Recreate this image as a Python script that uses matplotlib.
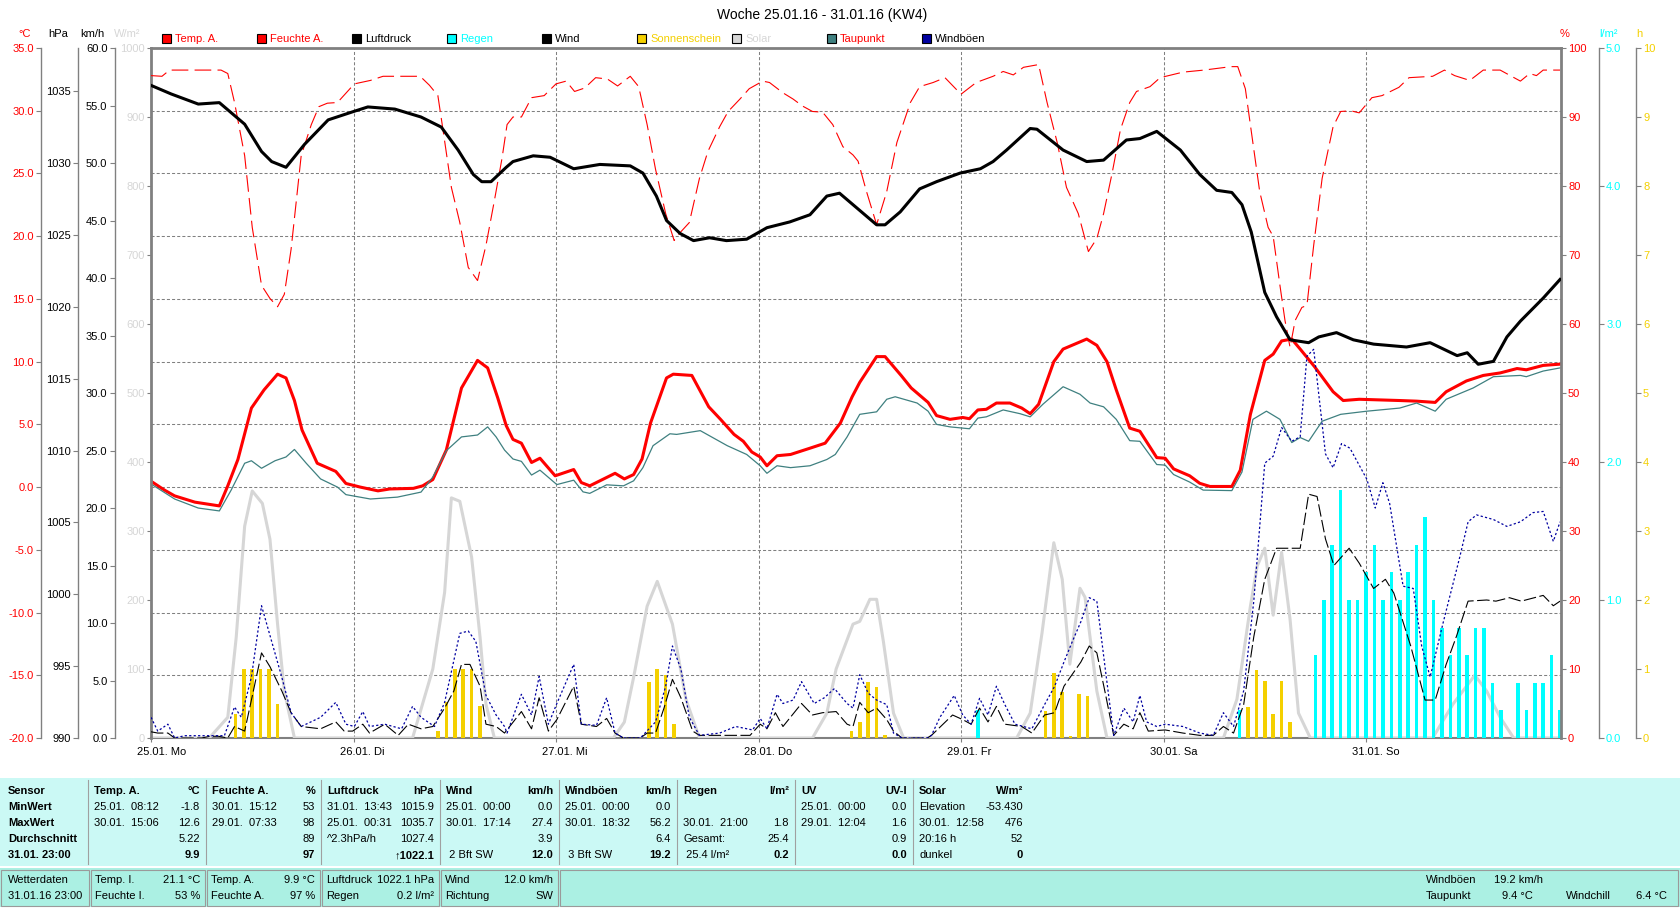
import matplotlib
matplotlib.use("Agg")
import matplotlib.pyplot as plt
import matplotlib.transforms as mtransforms
from matplotlib.patches import Rectangle

W, H = 1680, 909
L, R, T, B = 151, 1561, 48, 738   # plot box in pixels
PX_PER_H = 202.5 / 24.0

plt.rcParams['font.family'] = ['Liberation Sans', 'DejaVu Sans']
plt.rcParams['font.size'] = 8
plt.rcParams['lines.scale_dashes'] = False

RED = '#ff0000'
CYAN = '#00ffff'
GOLD = '#f4d000'
LGRAY = '#d6d6d6'
TEAL = '#3f8080'
BLUE = '#0000a0'
GRAY = '#808080'

title = 'Woche 25.01.16 - 31.01.16 (KW4)'
day_labels = ['25.01. Mo', '26.01. Di', '27.01. Mi', '28.01. Do', '29.01. Fr', '30.01. Sa', '31.01. So']

# (hours since 25.01. 00:00, value)
pressure = [(0, 1035.4), (2.4, 1034.8), (5.6, 1034.1), (8.1, 1034.2), (11.1, 1032.7), (13.1, 1030.8),
            (14.3, 1030.1), (16, 1029.7), (18.2, 1031.3), (21, 1033.0), (24.1, 1033.6), (25.7, 1033.9),
            (28.9, 1033.75), (32, 1033.2), (34.4, 1032.5), (36.4, 1030.9), (38.2, 1029.2), (39.2, 1028.7),
            (40.3, 1028.7), (42.1, 1029.7), (42.9, 1030.1), (45.3, 1030.5), (47.3, 1030.4), (50.1, 1029.6),
            (53.2, 1029.9), (56.8, 1029.8), (58.3, 1029.3), (59.9, 1027.7), (61.1, 1026.0), (62.7, 1025.1),
            (64.3, 1024.6), (66.2, 1024.8), (68.2, 1024.6), (70.6, 1024.7), (73, 1025.5), (75.7, 1025.9),
            (78.1, 1026.4), (80.1, 1027.7), (81.6, 1027.9), (83.8, 1026.8), (86, 1025.7), (87, 1025.7),
            (88.8, 1026.6), (91.1, 1028.2), (93.1, 1028.7), (95.9, 1029.3), (98.3, 1029.6), (99.8, 1030.1),
            (101.4, 1030.9), (104.2, 1032.4), (105, 1032.35), (108.1, 1030.9), (110.9, 1030.1), (112.9, 1030.2),
            (115.6, 1031.6), (117.2, 1031.7), (119.2, 1032.2), (122, 1030.9), (124.3, 1029.2), (126.3, 1028.1),
            (128.1, 1027.95), (129.3, 1027.1), (130.4, 1025.2), (132, 1021.0), (133.4, 1019.3), (135, 1017.7),
            (137.2, 1017.5), (138.4, 1017.9), (140.5, 1018.2), (142.5, 1017.7), (144.9, 1017.4), (148.8, 1017.2),
            (151.6, 1017.5), (154.8, 1016.6), (156, 1016.8), (157.3, 1016.0), (159.1, 1016.2), (160.7, 1017.9),
            (162.3, 1019.0), (165, 1020.6), (167, 1021.9)]

temperature = [(0, 0.47), (1.6, -0.24), (2.8, -0.7), (5.2, -1.2), (8.1, -1.5), (9.1, 0.1), (10.3, 2.2),
               (11.9, 6.3), (13.4, 7.75), (15.0, 9.0), (16, 8.7), (17, 6.9), (17.9, 4.55), (19.7, 1.9),
               (21.9, 1.25), (23.1, 0.29), (24.8, 0.0), (26.9, -0.3), (28.3, -0.15), (31.1, -0.1), (32.2, 0.1),
               (33.4, 0.6), (35, 2.95), (36.8, 7.9), (38.7, 10.1), (39.9, 9.5), (41.1, 7.1), (42.1, 4.9),
               (42.9, 3.8), (43.9, 3.5), (45.1, 1.96), (46.1, 2.3), (47.9, 0.9), (50.1, 1.4), (51.0, 0.36),
               (52, 0.1), (55, 1.1), (56.1, 0.65), (57.2, 1.0), (58.2, 2.24), (59.2, 5.1), (61.1, 8.7),
               (61.9, 9.0), (64.1, 8.9), (66.1, 6.4), (67.5, 5.4), (69.1, 4.2), (70.2, 3.65), (71.2, 2.8),
               (72.2, 2.4), (73, 1.7), (74.2, 2.5), (75.8, 2.6), (78.1, 3.1), (79.9, 3.5), (81.7, 5.1),
               (83.1, 7.2), (84, 8.35), (86, 10.4), (87, 10.4), (88.9, 8.9), (90.1, 7.9), (92.1, 6.75),
               (93.1, 5.7), (94.7, 5.4), (96.2, 5.55), (97, 5.45), (98, 6.15), (99, 6.2), (100.2, 6.7),
               (101.8, 6.7), (103.2, 6.3), (104.2, 5.85), (105.2, 6.6), (107, 10.0), (108.1, 11.0),
               (110.9, 11.8), (112.1, 11.3), (113.3, 10.0), (114.4, 7.75), (116, 4.7), (117.2, 4.45),
               (119.2, 2.35), (120.2, 2.3), (121.2, 1.45), (123.1, 0.9), (124.3, 0.3), (125.5, 0.05),
               (128.1, 0.05), (129.1, 1.35), (130.3, 5.8), (132, 10.1), (133, 10.6), (134, 11.65), (135.2, 11.8),
               (136.2, 11.0), (137.9, 9.6), (140.1, 7.6), (141.3, 6.9), (143.2, 7.0), (148, 6.9), (150, 6.85),
               (152.2, 6.75), (153.5, 7.6), (155.9, 8.46), (157.9, 8.9), (159.9, 9.1), (161.9, 9.45),
               (163, 9.35), (165, 9.7), (167, 9.8)]

dewpoint = [(0, 0.25), (2.8, -0.95), (5.6, -1.67), (8.1, -1.9), (9.5, -0.24), (11.1, 1.9), (11.9, 2.1),
            (13.1, 1.5), (14.7, 2.1), (16, 2.4), (17, 3.0), (18.4, 1.9), (20.1, 0.65), (22.1, 0.0), (23.1, -0.6),
            (26, -0.95), (29.2, -0.8), (32, -0.4), (33.4, 0.8), (35, 2.9), (36.8, 4.0), (38.7, 4.15),
            (39.9, 4.8), (40.9, 4.0), (41.9, 2.95), (42.9, 2.24), (43.9, 2.05), (45.1, 0.96), (46.1, 1.35),
            (48.1, 0.2), (50.1, 0.55), (51.2, -0.38), (52, -0.5), (54, 0.18), (56, 0.1), (57.2, 0.5),
            (58.3, 1.55), (59.5, 3.3), (61.5, 4.25), (62.3, 4.2), (65.1, 4.5), (68.3, 3.3), (70.6, 2.6),
            (72.2, 1.7), (73, 1.1), (74.2, 1.7), (75.8, 1.55), (78.1, 1.7), (80.1, 2.2), (81.1, 2.6),
            (82.5, 4.0), (84, 5.8), (86, 6.0), (87.2, 7.0), (88.2, 7.2), (90.8, 6.7), (92.1, 6.05), (93.1, 5.0),
            (94.7, 4.8), (97, 4.65), (98, 5.5), (99, 5.6), (101, 6.15), (103, 5.85), (104.2, 5.6), (105.7, 6.6),
            (108.1, 8.0), (110.1, 7.4), (111.3, 6.7), (112.9, 6.4), (114.4, 5.4), (116, 3.7), (117.2, 3.65),
            (119.2, 1.8), (120.2, 1.75), (121.2, 1.0), (123.1, 0.4), (124.7, -0.24), (128.1, -0.28),
            (129.3, 1.2), (130.6, 5.4), (132.2, 6.05), (133.8, 5.4), (135.2, 3.55), (136.2, 3.95),
            (137.2, 3.65), (138.8, 5.25), (141, 5.8), (144.1, 6.05), (148, 6.3), (150, 6.7), (152.2, 6.05),
            (153.5, 7.0), (156.7, 7.9), (159.1, 8.8), (162.3, 8.9), (163, 8.8), (165, 9.25), (167, 9.5)]

humidity = [(0, 96), (1.3, 95.9), (2.2, 96.8), (8.3, 96.8), (9.1, 96.3), (9.9, 92.1), (11.1, 84.4), (12.0, 74),
            (13.1, 65.6), (14.1, 63.7), (15.0, 62.5), (15.8, 64.3), (16.6, 70.8), (17.8, 84.4), (19.0, 88.9),
            (19.9, 91.5), (20.9, 92), (22.1, 92.1), (24.1, 94.8), (26, 95.3), (27.5, 95.9), (31.9, 95.9),
            (33, 94.6), (34, 93.1), (34.6, 88.2), (35.6, 79.8), (36.6, 74.7), (37.6, 68.2), (38.7, 66.3),
            (39.7, 71.4), (40.7, 77.9), (41.6, 84), (42.2, 88.9), (42.9, 90), (43.9, 90), (45.1, 92.8),
            (46.6, 93.1), (48, 94.8), (49.2, 95.2), (50.2, 93.7), (51.4, 94.2), (52.7, 95.7), (54.1, 95.5),
            (55.3, 94.5), (56.8, 95.9), (57.8, 94.4), (58.8, 88.9), (59.8, 82.4), (61, 76), (62, 72.1),
            (62.6, 73.1), (63.8, 74.7), (65, 81.1), (66, 85), (67.4, 88.6), (68.4, 90.8), (69.8, 92.6),
            (70.9, 94.1), (72.5, 95.2), (73.3, 95), (74.9, 93.5), (76.1, 92.6), (77.2, 91.6), (78.4, 90.8),
            (79.6, 90.7), (80.8, 88.9), (82, 85.7), (83.2, 84.5), (83.8, 83.6), (84.8, 79.2), (86, 74.4),
            (87.2, 79.2), (88.4, 86.3), (90, 92.1), (91.1, 94.4), (92.7, 95), (94.1, 95.7), (96, 93.3),
            (97.8, 95), (99.8, 95.9), (101, 96.6), (102.2, 96.1), (103.4, 97.2), (105.2, 97.6), (106.2, 92.1),
            (107.4, 86.3), (108.5, 79.8), (109.9, 76), (111.1, 70.5), (112.1, 72.4), (112.9, 76), (113.9, 81.8),
            (114.9, 88.2), (116, 92.1), (116.8, 93.7), (118.4, 94.4), (119.6, 95.7), (122.3, 96.5),
            (124.8, 96.8), (128, 97.3), (128.8, 97.3), (129.7, 94.1), (130.8, 84.4), (131.4, 79.2), (132.4, 74),
            (133, 72.7), (133.8, 65.6), (134.4, 60.5), (135.0, 56.6), (135.6, 60.5), (136.4, 62.4), (137, 62.7),
            (137.8, 71.4), (138.8, 81.1), (140.1, 88.6), (141, 90.8), (142.2, 90.9), (143.2, 90.6),
            (144.7, 92.8), (145.9, 93.1), (147.9, 94.3), (149.1, 95.7), (151.9, 95.9), (153.3, 96.8),
            (154.5, 96), (156.3, 95.3), (157.9, 96.8), (159.9, 96.8), (162.3, 95.2), (163.4, 96.3), (164.2, 96),
            (165, 96.8), (167, 96.8)]

wind = [(0, 0.54), (0.8, 0.43), (2, 0.43), (2.8, 0), (6, 0), (7, 0.15), (8, 0.15), (9.1, 0), (9.9, 1.0),
        (11.1, 0.6), (11.9, 3.3), (13.1, 7.4), (14.1, 6.2), (15.5, 4.1), (16.6, 2.2), (17.8, 1.0), (20.1, 0.8),
        (21.9, 1.4), (22.9, 0.6), (23.9, 0.6), (25.1, 1.2), (25.9, 0.43), (27.7, 1.2), (29.3, 0.23),
        (30.5, 1.2), (32, 0.8), (33.4, 1.0), (34.8, 2.6), (35.9, 4.1), (36.8, 6.4), (37.8, 6.4), (39, 4.5),
        (39.7, 1.2), (40.9, 1.0), (41.9, 0.43), (43.9, 2.3), (45.1, 0.8), (46, 3.5), (47.1, 0.6), (48.1, 1.6),
        (50.1, 4.5), (51, 1.2), (52.8, 1.0), (54, 1.7), (55, 0.43), (56, 0), (58, 0), (58.8, 0.43),
        (59.8, 0.43), (60.8, 2.6), (61.8, 5.1), (62.8, 3.5), (64.2, 0.6), (65, 0.23), (71, 0.23), (72.2, 1.2),
        (73, 0.8), (74, 2.2), (74.9, 1.0), (77.1, 3.0), (78.4, 2.0), (79.6, 2.2), (81.2, 2.3), (82.5, 1.2),
        (83.2, 1.0), (84, 3.1), (85, 2.2), (86, 2.6), (87.2, 1.6), (88, 0.6), (89, 0), (92, 0), (92.5, 0.23),
        (95, 2.0), (96.2, 1.6), (97.2, 1.2), (98.2, 2.6), (99.2, 1.4), (100.2, 2.75), (101.2, 1.2),
        (103.2, 1.0), (104.4, 0.43), (105.9, 2.0), (107.1, 2.2), (108.2, 4.5), (110.2, 6.6), (111.2, 8.0),
        (112.1, 7.4), (113.1, 3.9), (114.1, 0.23), (115.3, 1.2), (116.4, 0.8), (117.2, 2.2), (118.2, 0.6),
        (120.2, 0.7), (122.3, 0.43), (124.3, 0.23), (125.9, 0.23), (127.1, 1.0), (128.3, 0.43), (129.5, 2.9),
        (130.7, 8.8), (132, 13.8), (133.4, 16.5), (136.2, 16.5), (137.2, 21.2), (138.2, 21.0), (139.2, 17.3),
        (140.2, 15.0), (142, 16.5), (143.2, 15.2), (144.9, 13.0), (146.3, 13.8), (147.3, 12.6), (149.3, 8.0),
        (151, 3.3), (152.2, 3.3), (153.5, 6.4), (154.7, 8.8), (156.1, 11.9), (158.3, 12.0), (159.4, 11.9),
        (161, 12.2), (162.4, 11.9), (165, 12.4), (166.2, 11.5), (167, 11.9)]

gusts = [(0, 1.8), (0.8, 0.6), (2, 1.2), (2.8, 0), (4, 0.2), (7, 0.2), (8.7, 0.2), (9.9, 2.7), (10.7, 1.8),
         (11.9, 5.3), (13.1, 11.5), (14.3, 8.4), (15.5, 5.3), (16.6, 2.2), (17.8, 1.0), (20.1, 1.8), (21.9, 3.1),
         (23.1, 1.2), (24.1, 1.0), (25.1, 2.3), (25.9, 1.0), (27.7, 1.2), (29.7, 0.8), (31, 2.75), (32, 1.8),
         (33.6, 1.0), (34.8, 3.1), (36.6, 9.1), (37.6, 9.3), (38.5, 8.4), (39.7, 3.7), (40.9, 2.0), (41.9, 1.0),
         (42.2, 0.43), (43.9, 3.8), (45.1, 2.0), (46, 5.35), (47.1, 1.2), (48.1, 3.0), (50.1, 6.4), (51, 1.2),
         (52.8, 1.1), (54, 3.5), (55, 0.43), (56, 0), (58, 0), (59.8, 1.4), (61, 4.5), (61.8, 8.0), (62.8, 6.0),
         (63.8, 1.8), (65, 0.23), (67.4, 0.43), (69.3, 1.0), (71.3, 0.7), (72.2, 1.7), (73, 0.8), (74.2, 3.8),
         (74.9, 3.0), (76.1, 3.3), (77.1, 4.9), (78.6, 3.0), (79.8, 3.5), (81, 4.3), (82.5, 3.0), (83.2, 2.6),
         (84, 5.5), (85, 3.9), (86, 3.3), (87.2, 2.9), (88, 0.43), (89, 0), (92, 0), (92.5, 0.23), (93.5, 1.8),
         (95.2, 3.7), (96.2, 2.0), (97.2, 1.2), (98.2, 3.45), (99.2, 2.0), (100.2, 4.5), (101.2, 2.9),
         (102.4, 1.2), (104.4, 0.8), (105.9, 2.9), (107.1, 4.5), (108.2, 6.6), (109.2, 8.4), (110.2, 10.1),
         (111.2, 12.2), (112.1, 11.9), (113.1, 6.0), (114.1, 0.23), (115.3, 2.6), (116.4, 1.4), (117.2, 3.7),
         (118, 1.4), (119.2, 1.0), (120.2, 1.2), (122.3, 1.0), (124.3, 0.43), (125.9, 0.23), (127.1, 2.2),
         (128.3, 1.0), (129.5, 4.1), (130.7, 11.9), (132, 23.9), (133, 24.5), (134, 27.0), (135.2, 25.8),
         (136.2, 26.2), (137, 33.2), (137.8, 33.8), (139.2, 24.7), (140.1, 23.5), (141.1, 25.6), (142.1, 25.2),
         (144.1, 22.5), (145.1, 20.0), (146, 22.2), (146.8, 20.4), (148.4, 13.2), (149.6, 13.0), (150.6, 8.0),
         (151.6, 5.3), (153.1, 9.9), (155.1, 15.7), (156.1, 18.8), (157.1, 19.4), (159.1, 19.0), (160.7, 18.4),
         (162.3, 18.8), (163.8, 19.6), (165, 19.7), (166.2, 17.1), (167, 18.8)]

solar = [(0, 0), (6.9, 0), (9.1, 30), (10.1, 146), (11.1, 307), (12, 358), (13.2, 340), (14.1, 288), (15, 165),
         (15.8, 68), (17, 0), (31, 0), (33.4, 100), (34.8, 211), (35.6, 348), (36.6, 343), (38, 262), (39, 146),
         (39.7, 49), (40.7, 0), (54.8, 0), (56.1, 23), (57.2, 88), (58.8, 191), (60, 227), (61.8, 165),
         (63.4, 56), (65, 0), (78.4, 0), (80.1, 36), (81.2, 100), (83.2, 165), (84, 169), (85.2, 201), (86, 201),
         (86.8, 140), (88, 36), (89.2, 0), (102.6, 0), (104.2, 36), (105.6, 152), (107, 283), (108, 230),
         (108.9, 107), (110.1, 217), (110.7, 204), (112.1, 68), (113.3, 0), (127.1, 0), (128.7, 56),
         (130.3, 191), (131.1, 249), (132, 275), (133, 178), (134, 269), (135, 172), (136, 36), (137.4, 0),
         (151.9, 0), (154.3, 49), (156.9, 91), (158.3, 68), (159.9, 30), (161.5, 0), (167, 0)]

sunshine = [(10, 0.35), (11, 1.0), (12, 1.0), (13, 1.0), (14, 1.0), (15, 0.5),
            (34, 0.1), (35, 0.52), (36, 1.0), (37, 1.0), (38, 1.0), (39, 0.46),
            (59, 0.81), (60, 1.0), (61, 0.92), (62, 0.2),
            (83, 0.1), (84, 0.23), (85, 0.81), (86, 0.74), (87, 0.05),
            (106, 0.39), (107, 0.94), (108, 0.67), (109, 0.03), (110, 0.64), (111, 0.61),
            (130, 0.45), (131, 0.98), (132, 0.83), (133, 0.35), (134, 0.83), (135, 0.23)]

rain = [(98, 0.2), (129, 0.2), (138, 0.6), (139, 1.0), (140, 1.4), (141, 1.8), (142, 1.0), (143, 1.0), (144, 1.2),
        (145, 1.4), (146, 1.0), (147, 1.2), (148, 1.0), (149, 1.2), (150, 1.4), (151, 1.6), (152, 1.0),
        (153, 0.8), (154, 0.6), (155, 0.8), (156, 0.6), (157, 0.8), (158, 0.8), (159, 0.4), (160, 0.2),
        (162, 0.4), (163, 0.2), (164, 0.4), (165, 0.4), (166, 0.6), (167, 0.2)]

legend_items = [('Temp. A.', RED, RED), ('Feuchte A.', RED, RED), ('Luftdruck', 'black', 'black'),
                ('Regen', CYAN, CYAN), ('Wind', 'black', 'black'), ('Sonnenschein', GOLD, GOLD),
                ('Solar', LGRAY, LGRAY), ('Taupunkt', TEAL, RED), ('Windböen', BLUE, 'black')]

# summary table
row_heads = ['Sensor', 'MinWert', 'MaxWert', 'Durchschnitt', '31.01. 23:00']
table_cols = [
    ('Temp. A.', '°C', [('25.01.  08:12', '-1.8'), ('30.01.  15:06', '12.6'), ('', '5.22'), ('', '9.9')]),
    ('Feuchte A.', '%', [('30.01.  15:12', '53'), ('29.01.  07:33', '98'), ('', '89'), ('', '97')]),
    ('Luftdruck', 'hPa', [('31.01.  13:43', '1015.9'), ('25.01.  00:31', '1035.7'), ('^2.3hPa/h', '1027.4'), ('', '↑1022.1')]),
    ('Wind', 'km/h', [('25.01.  00:00', '0.0'), ('30.01.  17:14', '27.4'), ('', '3.9'), (' 2 Bft SW', '12.0')]),
    ('Windböen', 'km/h', [('25.01.  00:00', '0.0'), ('30.01.  18:32', '56.2'), ('', '6.4'), (' 3 Bft SW', '19.2')]),
    ('Regen', 'l/m²', [('', ''), ('30.01.  21:00', '1.8'), ('Gesamt:', '25.4'), (' 25.4 l/m²', '0.2')]),
    ('UV', 'UV-I', [('25.01.  00:00', '0.0'), ('29.01.  12:04', '1.6'), ('', '0.9'), ('', '0.0')]),
    ('Solar', 'W/m²', [('Elevation', '-53.430'), ('30.01.  12:58', '476'), ('20:16 h', '52'), ('dunkel', '0')]),
]
current_cells = [
    [('Wetterdaten', ''), ('31.01.16 23:00', '')],
    [('Temp. I.', '21.1 °C'), ('Feuchte I.', '53 %')],
    [('Temp. A.', '9.9 °C'), ('Feuchte A.', '97 %')],
    [('Luftdruck', '1022.1 hPa'), ('Regen', '0.2 l/m²')],
    [('Wind', '12.0 km/h'), ('Richtung', 'SW')],
]


def unzip(pairs):
    return [p[0] for p in pairs], [p[1] for p in pairs]


def fx(x):
    return x / W


def fy(y):
    return 1 - y / H


fig = plt.figure(figsize=(W / 100, H / 100), dpi=100)
fig.patch.set_facecolor('white')

ax = fig.add_axes([fx(L), fy(B), (R - L) / W, (B - T) / H])
ax.set_facecolor('white')
ax.set_xlim(0, (R - L) / PX_PER_H)


def style_axis(a, side, pos_px, color, lim, ticks, fmt, lw=1.0, tick_px=5):
    a.set_ylim(*lim)
    a.set_yticks(ticks)
    a.set_yticklabels([fmt.format(t) for t in ticks])
    for s in ['left', 'right', 'top', 'bottom']:
        a.spines[s].set_visible(False)
    sp = a.spines[side]
    sp.set_visible(True)
    sp.set_position(('axes', (pos_px - L) / (R - L)))
    sp.set_color(GRAY)
    sp.set_linewidth(lw)
    if side == 'left':
        a.yaxis.tick_left()
    else:
        a.yaxis.tick_right()
    a.tick_params(axis='y', length=tick_px * 0.72, width=0.8, color=GRAY, labelcolor=color, pad=1.5)


# main axes: temperature scale + frame + grid
style_axis(ax, 'left', 41, RED, (-20, 35), list(range(-20, 36, 5)), '{:.1f}')
ax.spines['top'].set_visible(True)
ax.spines['top'].set_color(GRAY)
ax.spines['top'].set_linewidth(2.0)
ax.spines['bottom'].set_visible(True)
ax.spines['bottom'].set_color(GRAY)
ax.spines['bottom'].set_linewidth(1.5)
ax.set_xticks([24 * i for i in range(7)])
ax.tick_params(axis='x', length=3, width=0.8, color=GRAY, labelbottom=False)
ax.grid(True, color=GRAY, linewidth=0.75, linestyle=(0, (2.2, 1.5)))

ax_s = ax.twinx()
style_axis(ax_s, 'left', L, LGRAY, (0, 1000), list(range(0, 1001, 100)), '{:d}', lw=2.0, tick_px=4)
ax_sun = ax.twinx()
style_axis(ax_sun, 'right', 1636, GOLD, (0, 10), list(range(0, 11)), '{:d}')
ax_r = ax.twinx()
style_axis(ax_r, 'right', 1599, CYAN, (0, 5), [0, 1, 2, 3, 4, 5], '{:.1f}')
ax_w = ax.twinx()
style_axis(ax_w, 'left', 114.5, 'black', (0, 60), list(range(0, 61, 5)), '{:.1f}')
ax_f = ax.twinx()
style_axis(ax_f, 'right', R, RED, (0, 100), list(range(0, 101, 10)), '{:d}', lw=2.0)
ax_p = ax.twinx()
style_axis(ax_p, 'left', 78, 'black', (990, 1038), list(range(990, 1036, 5)), '{:d}')

# series
h, v = unzip(temperature)
ax.plot(h, v, color=RED, lw=2.2)
h, v = unzip(dewpoint)
ax.plot(h, v, color=TEAL, lw=0.9)
h, v = unzip(solar)
ax_s.plot(h, v, color=LGRAY, lw=2.2)
h, v = unzip(sunshine)
ax_sun.bar(h, v, width=0.42, color=GOLD, linewidth=0)
h, v = unzip(rain)
ax_r.bar(h, v, width=0.42, color=CYAN, linewidth=0)
h, v = unzip(wind)
ax_w.plot(h, v, color='black', lw=0.8, dashes=(9, 2.5))
h, v = unzip(gusts)
ax_w.plot(h, v, color=BLUE, lw=0.9, dashes=(1.6, 1.6))
h, v = unzip(humidity)
ax_f.plot(h, v, color=RED, lw=0.8, dashes=(12, 4.5))
h, v = unzip(pressure)
ax_p.plot(h, v, color='black', lw=2.2)

# day labels under the x axis
lab_tr = mtransforms.offset_copy(ax.get_xaxis_transform(), fig=fig, x=-14, y=-14, units='dots')
for i, lab in enumerate(day_labels):
    ax.text(24 * i, 0, lab, transform=lab_tr, ha='left', va='center', fontsize=8)

# title, unit labels, legend
fig.text(fx(822), fy(15.5), title, ha='center', va='center', fontsize=10)
for x, s, c in [(25, '°C', RED), (58, 'hPa', 'black'), (92, 'km/h', 'black'), (127, 'W/m²', LGRAY),
                (1565, '%', RED), (1608, 'l/m²', CYAN), (1639, 'h', GOLD)]:
    fig.text(fx(x), fy(34), s, ha='center', va='center', color=c, fontsize=8)
for i, (name, fill, tc) in enumerate(legend_items):
    x0 = 162 + i * 95
    fig.patches.append(Rectangle((fx(x0), fy(43)), 9 / W, 9 / H, transform=fig.transFigure,
                                 facecolor=fill, edgecolor='black', lw=0.8))
    fig.text(fx(x0 + 13), fy(38.5), name, ha='left', va='center', color=tc, fontsize=8)

# summary table
NARROW = ['Liberation Sans Narrow', 'Liberation Sans', 'DejaVu Sans']
fig.patches.append(Rectangle((0, fy(866)), 1, (866 - 778) / H, transform=fig.transFigure,
                             facecolor='#cbf9f5', edgecolor='none'))
fig.patches.append(Rectangle((0, fy(907)), 1, (907 - 868) / H, transform=fig.transFigure,
                             facecolor='#abf0e3', edgecolor='none'))
seps = [88, 206, 321, 440, 559, 677, 795, 913]
for x in seps:
    fig.add_artist(plt.Line2D([fx(x), fx(x)], [fy(780), fy(864)], transform=fig.transFigure,
                              color='#a0a0a0', lw=0.8))
row_y = [791, 807, 823, 839, 855]
for r, s in enumerate(row_heads):
    fig.text(fx(8), fy(row_y[r]), s, ha='left', va='center', fontweight='bold', family=NARROW, fontsize=8)
for c, (head, unit, cells) in enumerate(table_cols):
    x0 = seps[c] + 6
    x1 = (seps[c + 1] if c + 1 < len(seps) else 1029) - 6
    fig.text(fx(x0), fy(row_y[0]), head, ha='left', va='center', fontweight='bold', family=NARROW, fontsize=8)
    fig.text(fx(x1), fy(row_y[0]), unit, ha='right', va='center', fontweight='bold', family=NARROW, fontsize=8)
    for r, (left, right) in enumerate(cells):
        bold = 'bold' if r == 3 else 'normal'
        fig.text(fx(x0), fy(row_y[r + 1]), left, ha='left', va='center', family=NARROW, fontsize=8)
        fig.text(fx(x1), fy(row_y[r + 1]), right, ha='right', va='center', fontweight=bold,
                 family=NARROW, fontsize=8)

box_x = [0, 90, 206, 321, 440, 559, 1679]
for i in range(len(box_x) - 1):
    fig.patches.append(Rectangle((fx(box_x[i] + 1), fy(906)), (box_x[i + 1] - box_x[i] - 2) / W, 36 / H,
                                 transform=fig.transFigure, facecolor='none', edgecolor='#9a9a9a', lw=0.8))
cur_y = [880, 896]
for i, cell in enumerate(current_cells):
    for r, (left, right) in enumerate(cell):
        fig.text(fx(box_x[i] + (8 if i == 0 else 5)), fy(cur_y[r]), left, ha='left', va='center',
                 family=NARROW, fontsize=8)
        if right:
            fig.text(fx(box_x[i + 1] - 6), fy(cur_y[r]), right, ha='right', va='center',
                     family=NARROW, fontsize=8)
for x, y, s, ha in [(1426, 880, 'Windböen', 'left'), (1494, 880, '19.2 km/h', 'left'),
                    (1426, 896, 'Taupunkt', 'left'), (1533, 896, '9.4 °C', 'right'),
                    (1566, 896, 'Windchill', 'left'), (1667, 896, '6.4 °C', 'right')]:
    fig.text(fx(x), fy(y), s, ha=ha, va='center', family=NARROW, fontsize=8)

fig.savefig('out.png', dpi=100)
